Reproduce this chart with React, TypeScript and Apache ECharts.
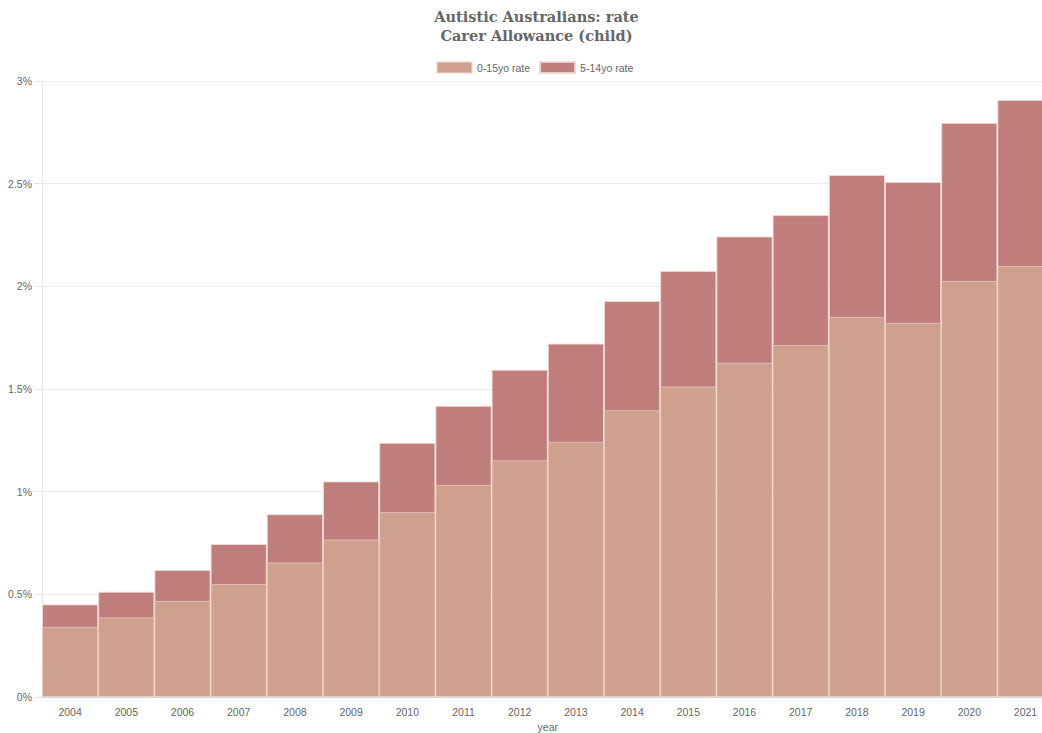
import React, { useEffect, useRef } from "react";
import * as echarts from "echarts";

const years = ["2004","2005","2006","2007","2008","2009","2010","2011","2012","2013","2014","2015","2016","2017","2018","2019","2020","2021"];
const rate0to15 = [0.342,0.388,0.468,0.550,0.655,0.767,0.901,1.033,1.153,1.243,1.397,1.512,1.628,1.714,1.851,1.822,2.026,2.099];
const rate5to14 = [0.451,0.513,0.619,0.745,0.890,1.050,1.238,1.418,1.594,1.721,1.928,2.075,2.243,2.347,2.542,2.508,2.796,2.908];
const yTicks = [0, 0.5, 1, 1.5, 2, 2.5, 3];

export default function App() {
  const ref = useRef<HTMLDivElement>(null);
  useEffect(() => {
    if (!ref.current) return;
    const chart = echarts.init(ref.current, undefined, { renderer: "svg" });
    const sans = "'Liberation Sans', Arial, Helvetica, sans-serif";
    chart.setOption({
      animation: false,
      backgroundColor: "#ffffff",
      title: {
        text: "Autistic Australians: rate\nCarer Allowance (child)",
        left: "center",
        top: 2,
        textStyle: {
          fontFamily: "'DejaVu Serif', serif",
          fontWeight: "bold",
          fontSize: 14.5,
          lineHeight: 19,
          color: "#666666",
        },
      },
      legend: {
        data: ["0-15yo rate", "5-14yo rate"],
        top: 61,
        left: 436,
        padding: 0,
        itemWidth: 35,
        itemHeight: 11,
        itemGap: 9,
        icon: "rect",
        textStyle: { fontFamily: sans, fontSize: 10.5, color: "#666666", padding: [0, 0, 0, 0] },
      },
      grid: { left: 42, right: 1073 - 1053.6, top: 81, bottom: 745 - 697, containLabel: false },
      xAxis: {
        type: "category",
        data: years,
        name: "year",
        nameLocation: "middle",
        nameGap: 24,
        nameTextStyle: { fontFamily: sans, fontSize: 10.5, color: "#666666" },
        axisLine: { show: true, lineStyle: { color: "#d9d9d9", width: 1 } },
        axisTick: { show: false },
        axisLabel: { fontFamily: sans, fontSize: 10.5, color: "#666666", margin: 9 },
        splitLine: { show: false },
      },
      yAxis: {
        type: "value",
        min: yTicks[0],
        max: yTicks[yTicks.length - 1],
        interval: 0.5,
        axisLine: { show: true, lineStyle: { color: "#e6e6e6", width: 1 } },
        axisTick: { show: true, length: 8, lineStyle: { color: "#e6e6e6" } },
        axisLabel: {
          fontFamily: sans,
          fontSize: 10.5,
          color: "#666666",
          margin: 10,
          formatter: (v: number) => `${v}%`,
        },
        splitLine: { show: true, lineStyle: { color: "#ececec", width: 1 } },
      },
      series: [
        {
          name: "5-14yo rate",
          type: "bar",
          data: rate5to14,
          barGap: "-100%",
          barCategoryGap: 0,
          itemStyle: { color: "#bf7e7c", borderColor: "rgba(240,215,210,0.9)", borderWidth: 1 },
        },
        {
          name: "0-15yo rate",
          type: "bar",
          data: rate0to15,
          barGap: "-100%",
          barCategoryGap: 0,
          itemStyle: { color: "#cfa08e", borderColor: "rgba(240,215,205,0.6)", borderWidth: 1 },
        },
      ],
    });
    return () => chart.dispose();
  }, []);
  return (
    <div style={{ position: "fixed", left: 0, top: 0, width: 1042, height: 733, overflow: "hidden", background: "#fff" }}>
      <div ref={ref} style={{ width: 1073, height: 745 }} />
    </div>
  );
}
